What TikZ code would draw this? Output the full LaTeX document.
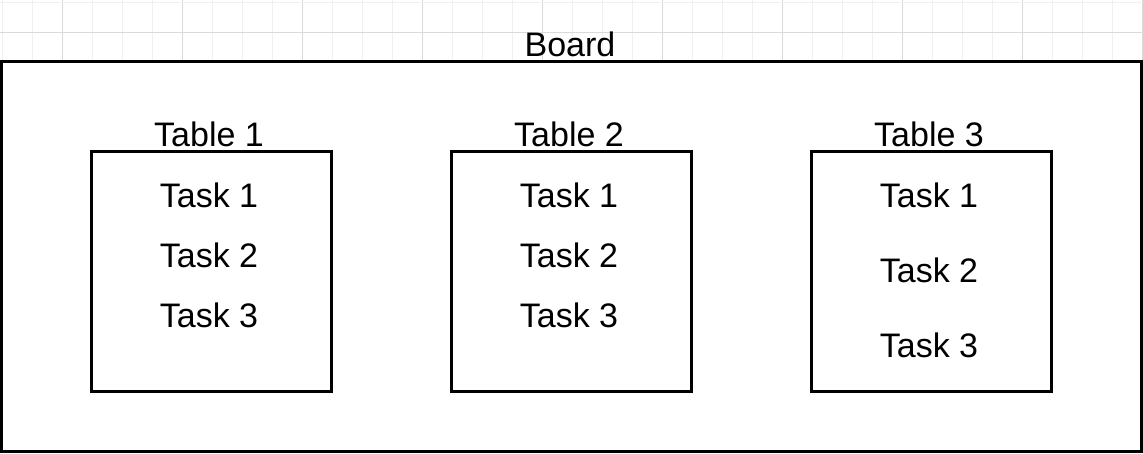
\documentclass[tikz,border=0pt]{standalone}
\usepackage{fontspec}
\setmainfont{Liberation Sans}
\begin{document}
\begin{tikzpicture}[x=1pt,y=-1pt,
  txt/.style={inner sep=0pt,font=\fontsize{34}{41}\selectfont,anchor=base},
  frame/.style={draw=black,line width=3pt,fill=white,inner sep=0pt},
  minorgrid/.style={draw={rgb,255:red,240;green,240;blue,240},line width=1pt},
  majorgrid/.style={draw={rgb,255:red,218;green,218;blue,218},line width=1pt}]
\useasboundingbox (0,0) rectangle (1143,453);
\fill[white] (0,0) rectangle (1143,453);
% grid above the board
\foreach \k in {0,...,38} {
  \pgfmathtruncatemacro{\m}{mod(\k,4)}
  \ifnum\m=2
    \draw[majorgrid] ({2+30*\k},0) -- ({2+30*\k},61);
  \else
    \draw[minorgrid] ({2+30*\k},0) -- ({2+30*\k},61);
  \fi
}
\draw[minorgrid] (0,2) -- (1143,2);
\draw[majorgrid] (0,32) -- (1143,32);
% board
\node[frame,minimum width=1140pt,minimum height=390pt] (board) at (571,256) {};
\node[txt] (boardlbl) at (570,56) {Board};
% tables
\foreach \i/\cx in {1/211,2/571,3/931} {
  \node[frame,minimum width=240pt,minimum height=240pt] (table\i) at (\cx,271) {};
  \node[txt] (tablelbl\i) at (\cx-2,146) {Table \i};
}
\node[txt] (t11) at (209,207) {Task 1};
\node[txt] (t12) at (209,267) {Task 2};
\node[txt] (t13) at (209,327) {Task 3};
\node[txt] (t21) at (569,207) {Task 1};
\node[txt] (t22) at (569,267) {Task 2};
\node[txt] (t23) at (569,327) {Task 3};
\node[txt] (t31) at (929,207) {Task 1};
\node[txt] (t32) at (929,282) {Task 2};
\node[txt] (t33) at (929,357) {Task 3};
\end{tikzpicture}
\end{document}
